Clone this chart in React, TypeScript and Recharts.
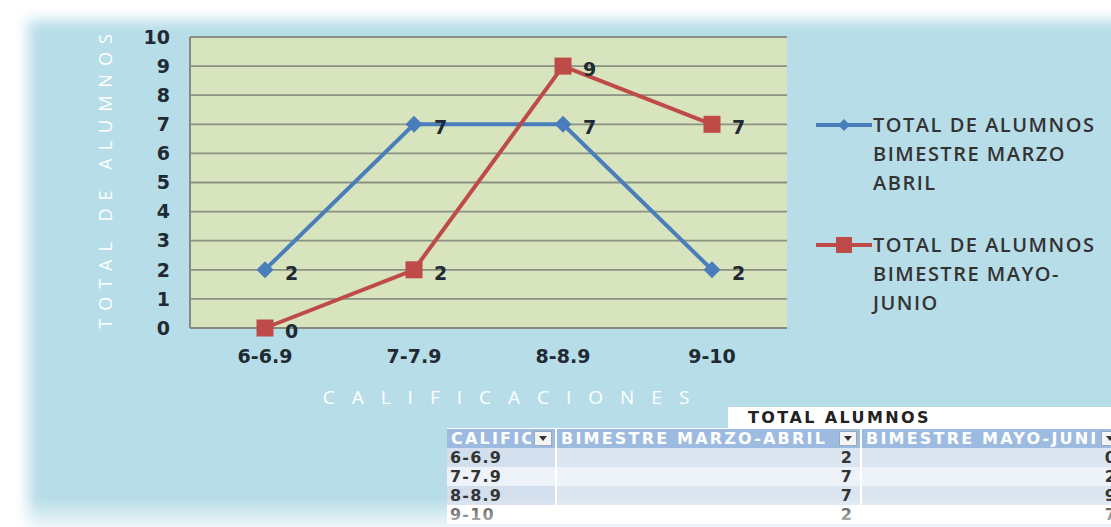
import { LineChart, Line, XAxis, YAxis, CartesianGrid, LabelList } from 'recharts';

// datos
const categories = ['6-6.9', '7-7.9', '8-8.9', '9-10'];
const marzoAbril = [2, 7, 7, 2];
const mayoJunio = [0, 2, 9, 7];
const yTicks = [0, 1, 2, 3, 4, 5, 6, 7, 8, 9, 10];
const seriesNames = ['TOTAL DE ALUMNOS BIMESTRE MARZO ABRIL', 'TOTAL DE ALUMNOS BIMESTRE MAYO-JUNIO'];
const seriesColors = ['#4a7ebb', '#be4b48'];
const tableTitle = 'TOTAL ALUMNOS';
const tableHeaders = ['CALIFICACIONES', 'BIMESTRE MARZO-ABRIL', 'BIMESTRE MAYO-JUNIO'];

const data = categories.map((c, i) => ({ cat: c, a: marzoAbril[i], b: mayoJunio[i] }));

const FONT = '"DejaVu Sans", sans-serif';
const LEG_FONT = '"Open Sans", sans-serif';
const TEXT_DARK = '#1f2a33';

const Diamond = (props: any) => {
  const { cx, cy } = props;
  if (cx == null || cy == null) return null;
  const r = 8.5;
  return <polygon points={`${cx},${cy - r} ${cx + r},${cy} ${cx},${cy + r} ${cx - r},${cy}`} fill={seriesColors[0]} />;
};

const Square = (props: any) => {
  const { cx, cy } = props;
  if (cx == null || cy == null) return null;
  return <rect x={cx - 8.5} y={cy - 8.5} width={17} height={17} fill={seriesColors[1]} />;
};

// leyenda a la derecha, fuera del area de trazado
const LegendBox = () => (
  <div style={{ position: 'absolute', left: 815, top: 110, fontFamily: LEG_FONT }}>
    {seriesNames.map((name, i) => (
      <div key={name} style={{ display: 'flex', alignItems: 'flex-start', marginBottom: i === 0 ? 33 : 0 }}>
        <svg width={58} height={30} style={{ flex: 'none' }}>
          <line x1={1} y1={15} x2={57} y2={15} stroke={seriesColors[i]} strokeWidth={4} />
          {i === 0 ? (
            <polygon points="29,9 35,15 29,21 23,15" fill={seriesColors[0]} />
          ) : (
            <rect x={21} y={7} width={16} height={16} fill={seriesColors[1]} />
          )}
        </svg>
        <div style={{ width: 228, fontSize: 20, fontWeight: 600, color: '#333', lineHeight: '29px', letterSpacing: 1.5 }}>
          {name}
        </div>
      </div>
    ))}
  </div>
);

const YLabel = (props: any) => {
  const { viewBox } = props;
  const cx = viewBox.x - 25;
  const cy = viewBox.y + viewBox.height / 2 - 5;
  return (
    <text
      x={cx}
      y={cy}
      transform={`rotate(-90, ${cx}, ${cy})`}
      textAnchor="middle"
      dominantBaseline="central"
      fill="#ffffff"
      fontSize={18}
      letterSpacing={8}
      fontFamily={LEG_FONT}
    >
      TOTAL DE ALUMNOS
    </text>
  );
};

const XLabel = (props: any) => {
  const { viewBox } = props;
  return (
    <text
      x={viewBox.x + viewBox.width / 2 + 26}
      y={viewBox.y + 69}
      textAnchor="middle"
      dominantBaseline="central"
      fill="#ffffff"
      fontSize={19}
      letterSpacing={17}
      fontFamily={LEG_FONT}
    >
      CALIFICACIONES
    </text>
  );
};

const cellBase: any = {
  position: 'relative',
  height: 19,
  lineHeight: '19px',
  overflow: 'hidden',
  whiteSpace: 'nowrap',
  boxSizing: 'border-box',
  borderRight: '2px solid #ffffff',
  fontFamily: FONT,
  fontSize: 16,
  fontWeight: 700,
  letterSpacing: 2.2,
};

const colWidths = [110, 305, 262];

const DropBtn = () => (
  <span style={{ position: 'absolute', right: 3, top: 2, width: 18, height: 15, background: '#f4f4f4', border: '1px solid #9aa9b8', boxSizing: 'border-box', display: 'flex', alignItems: 'center', justifyContent: 'center' }}>
    <svg width={8} height={5}><polygon points="0,0 8,0 4,5" fill="#333" /></svg>
  </span>
);

const rowColors = ['#dce6f1', '#eef3f9', '#dce6f1', '#ffffff'];

const Table = () => (
  <div style={{ position: 'absolute', left: 447, top: 407 }}>
    <div style={{ marginLeft: 281, width: 400, height: 21, background: '#ffffff', fontFamily: FONT, fontSize: 16, fontWeight: 700, color: '#222', lineHeight: '21px', paddingLeft: 20, letterSpacing: 2.4, boxSizing: 'border-box' }}>
      {tableTitle}
    </div>
    <div style={{ display: 'flex', background: '#9dbbe0', borderTop: '1px solid #ffffff' }}>
      {tableHeaders.map((h, i) => (
        <div key={h} style={{ ...cellBase, width: colWidths[i], color: '#ffffff', paddingLeft: 4 }}>
          <div style={{ width: colWidths[i] - 30, overflow: 'hidden' }}>{h}</div>
          <DropBtn />
        </div>
      ))}
    </div>
    {categories.map((c, r) => (
      <div key={c} style={{ display: 'flex', background: rowColors[r] }}>
        <div style={{ ...cellBase, width: colWidths[0], color: '#333', paddingLeft: 3, letterSpacing: 1.2, background: r % 2 === 0 ? '#d3dfed' : rowColors[r] }}>{c}</div>
        <div style={{ ...cellBase, width: colWidths[1], color: '#333', textAlign: 'right', paddingRight: 6 }}>{marzoAbril[r]}</div>
        <div style={{ ...cellBase, width: colWidths[2], color: '#333', textAlign: 'right', paddingRight: 4 }}>{mayoJunio[r]}</div>
      </div>
    ))}
  </div>
);

export default function App() {
  return (
    <div style={{ position: 'fixed', left: 0, top: 0, width: 1111, height: 527, background: '#ffffff', overflow: 'hidden' }}>
      <div style={{ position: 'absolute', left: 28, top: 20, right: -40, bottom: -40, background: '#b7dde8', filter: 'blur(7px)' }} />
      <div style={{ position: 'absolute', left: 0, top: 0 }}>
        <LineChart width={1111} height={527} data={data} margin={{ top: 37, right: 324, bottom: 159, left: 130 }}>
          <CartesianGrid horizontal vertical={false} fill="#d7e4bd" fillOpacity={1} stroke="#8b9183" strokeWidth={1.8} />
          <XAxis
            dataKey="cat"
            height={40}
            padding={{ left: 75, right: 75 }}
            tickLine={false}
            tickSize={0}
            tickMargin={22}
            axisLine={{ stroke: '#868a80', strokeWidth: 2 }}
            tick={{ fontSize: 19, fill: TEXT_DARK, fontFamily: FONT, fontWeight: 'bold' }}
            label={<XLabel />}
          />
          <YAxis
            width={60}
            domain={[0, 10]}
            ticks={yTicks}
            interval={0}
            tickLine={false}
            tickSize={0}
            tickMargin={20}
            axisLine={{ stroke: '#868a80', strokeWidth: 2 }}
            tick={{ fontSize: 19, fill: TEXT_DARK, fontFamily: FONT, fontWeight: 'bold' }}
            label={<YLabel />}
          />
          <Line
            dataKey="a"
            name={seriesNames[0]}
            stroke={seriesColors[0]}
            strokeWidth={4}
            dot={<Diamond />}
            activeDot={false}
            isAnimationActive={false}
          >
            <LabelList dataKey="a" position="right" offset={20} dy={3} fill={TEXT_DARK} fontSize={19} fontWeight="bold" fontFamily={FONT} />
          </Line>
          <Line
            dataKey="b"
            name={seriesNames[1]}
            stroke={seriesColors[1]}
            strokeWidth={4}
            dot={<Square />}
            activeDot={false}
            isAnimationActive={false}
          >
            <LabelList dataKey="b" position="right" offset={20} dy={3} fill={TEXT_DARK} fontSize={19} fontWeight="bold" fontFamily={FONT} />
          </Line>
        </LineChart>
      </div>
      <LegendBox />
      <Table />
      <div style={{ position: 'absolute', left: 0, right: 0, top: 498, height: 29, background: 'linear-gradient(rgba(255,255,255,0), rgba(255,255,255,0.75))' }} />
    </div>
  );
}
